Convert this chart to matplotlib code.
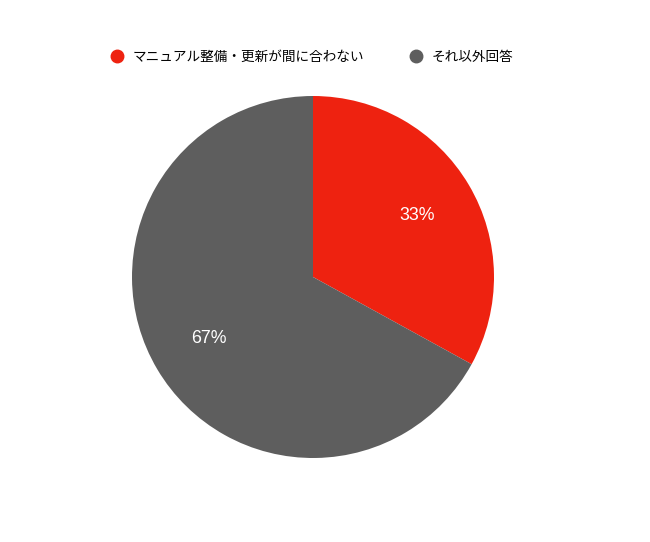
import matplotlib
matplotlib.use("Agg")
import matplotlib.pyplot as plt
from matplotlib.lines import Line2D

labels = ["マニュアル整備・更新が間に合わない", "それ以外回答"]
values = [33, 67]
colors = ["#EE2210", "#5E5E5E"]

plt.rcParams['font.family'] = ['Noto Sans CJK JP', 'DejaVu Sans']

W, H = 650, 542
fig = plt.figure(figsize=(W/100, H/100), dpi=100)
cx, cy, r = 313, 277, 181
ax = fig.add_axes([(cx - r)/W, (H - cy - r)/H, 2*r/W, 2*r/H])
wedges, texts, autotexts = ax.pie(values, colors=colors, startangle=90, counterclock=False,
                                  autopct='%1.0f%%', pctdistance=0.67, radius=1,
                                  textprops=dict(color='white', fontsize=12.8, family=['Liberation Sans', 'DejaVu Sans']))
ax.set_xlim(-1, 1)
ax.set_ylim(-1, 1)
ax.set_aspect('equal')

handles = [Line2D([0], [0], marker='o', linestyle='none', markersize=9,
                  markerfacecolor=c, markeredgecolor=c) for c in colors]
fig.legend(handles, labels, loc='center', bbox_to_anchor=(312/W, 1 - 57/H), ncol=2,
           frameon=False, fontsize=9.8, handletextpad=0.65, columnspacing=3.3,
           handlelength=1.0)

fig.savefig("out.png", dpi=100)
